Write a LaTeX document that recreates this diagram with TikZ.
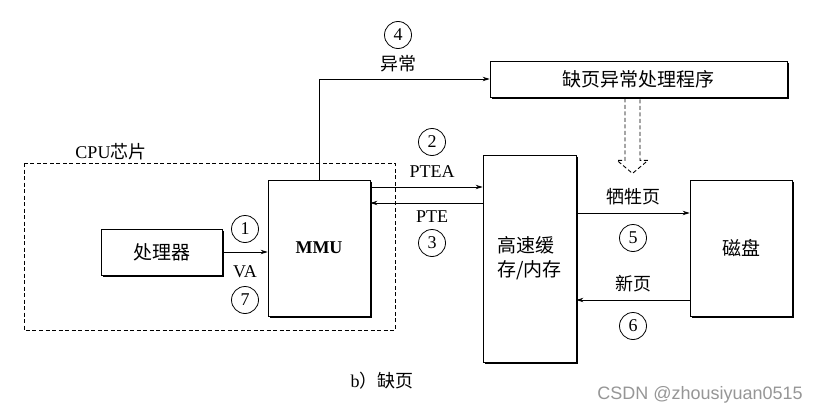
\documentclass[tikz,border=0pt]{standalone}
\usepackage{fontspec}
\setmainfont{Liberation Serif}
\newfontfamily\zh{Noto Sans CJK SC}
\newfontfamily\wmfont{Liberation Sans}
\usetikzlibrary{arrows.meta,calc}
\definecolor{wmgrey}{RGB}{150,150,150}

\tikzset{
  box/.style={draw, fill=white, line width=0.8pt, inner sep=0pt,
              font=\zh\fontsize{19}{24}\selectfont},
  arr/.style={-{Stealth[length=7pt,width=4.5pt]}, line width=0.8pt},
  num/.style={draw, circle, line width=0.8pt, minimum size=27pt, inner sep=0pt,
              font=\fontsize{18}{22}\selectfont},
  lbl/.style={inner sep=0pt, font=\fontsize{18}{22}\selectfont},
  zhlbl/.style={inner sep=0pt, font=\zh\fontsize{18}{22}\selectfont},
}
% thick right and bottom edge of a box
\newcommand\boxshadow[1]{%
  \draw[line width=2pt] ($(#1.north east)+(1,2)$) -- ($(#1.south east)+(1,1)$)
      -- ($(#1.south west)+(2,1)$);}

\begin{document}
\begin{tikzpicture}[x=1pt, y=-1pt]
    \useasboundingbox (0,0) rectangle (823,415);
    % CPU chip
    \draw[line width=0.8pt, dash pattern=on 4pt off 2.5pt] (24,163) rectangle (395,330);
    \node[lbl] (cpulbl) at (111,152) {CPU{\zh 芯片}};
    % boxes
    \node[box, minimum width=121pt, minimum height=46pt] (proc) at (161.5,252) {处理器};
    \node[box, minimum width=102pt, minimum height=136pt,
          font=\bfseries\fontsize{18}{22}\selectfont] (mmu) at (319,248) {MMU};
    \node[box, minimum width=93pt, minimum height=207pt, align=left] (mem) at (529.5,258.5)
        {高速缓\\存/内存};
    \node[box, minimum width=102pt, minimum height=136pt] (disk) at (741,248) {磁盘};
    \node[box, minimum width=297pt, minimum height=36pt] (handler) at (638.5,79) {缺页异常处理程序};
    \foreach \b in {proc,mmu,mem,disk,handler}
        {\boxshadow{\b}}
    % connectors
    \draw[arr] (proc.east) -- (proc.east -| mmu.west);
    \draw[arr] (mmu.north) |- (handler.west);
    \draw[arr] ([yshift=61pt]mmu.east) -- ([yshift=61pt]mmu.east -| mem.west);
    \draw[arr] ([yshift=45pt]mmu.east -| mem.west) -- ([yshift=45pt]mmu.east);
    \draw[arr] ([yshift=35pt]disk.west -| mem.east) -- ([yshift=35pt]disk.west);
    \draw[arr] ([yshift=-52pt]disk.west) -- ([yshift=-52pt]disk.west -| mem.east);
    % hollow dashed arrow
    \coordinate (hs) at ([xshift=-6pt,yshift=-1pt]handler.south);
    \draw[line width=0.9pt, dash pattern=on 4pt off 2.5pt]
        ([xshift=-7.5pt]hs) -- ++(0,62) -- ++(-8,0) -- ++(15.5,13)
        -- ++(15.5,-13) -- ++(-8,0) -- ([xshift=7.5pt]hs);
    % labels
    \node[num] (n1) at (245,229) {1};
    \node[lbl] (va) at (245,272) {VA};
    \node[num] (n7) at (245,300) {7};
    \node[num] (n4) at (398,35) {4};
    \node[zhlbl] (exc) at (398,64) {异常};
    \node[num] (n2) at (432,142) {2};
    \node[lbl] (ptea) at (432,172) {PTEA};
    \node[lbl] (pte) at (432,217) {PTE};
    \node[num] (n3) at (432,243) {3};
    \node[zhlbl] (victim) at (633,197) {牺牲页};
    \node[num] (n5) at (633,238) {5};
    \node[zhlbl] (newpg) at (633,284) {新页};
    \node[num] (n6) at (633,326) {6};
    % caption
    \node[lbl] (cap) at (382,381) {b{\zh ）缺页}};
    \node[inner sep=0pt, font=\wmfont\fontsize{18}{22}\selectfont, text=wmgrey] (wm) at (700,395)
        {CSDN @zhousiyuan0515};
\end{tikzpicture}
\end{document}
